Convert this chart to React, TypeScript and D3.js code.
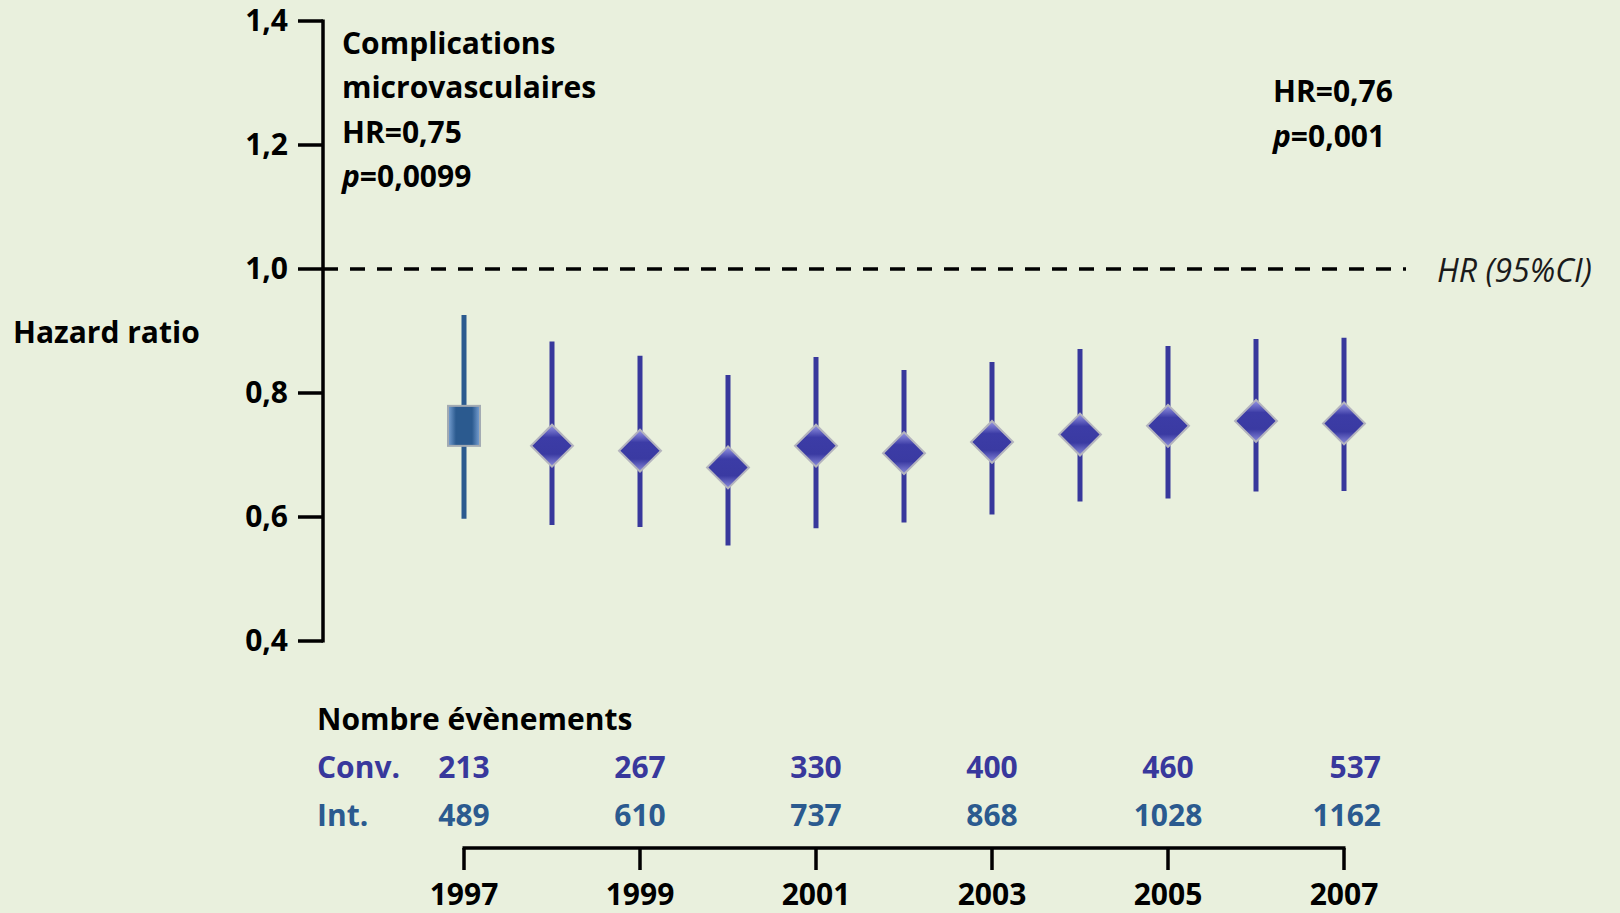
import React from "react";
import * as d3 from "d3";

// hazard ratio per year with 95% CI
const years = [1997, 1998, 1999, 2000, 2001, 2002, 2003, 2004, 2005, 2006, 2007];
const hr = [0.747, 0.715, 0.707, 0.68, 0.715, 0.703, 0.721, 0.733, 0.747, 0.755, 0.751];
const ciLow = [0.597, 0.587, 0.584, 0.554, 0.582, 0.591, 0.604, 0.625, 0.63, 0.641, 0.642];
const ciHigh = [0.926, 0.883, 0.86, 0.829, 0.858, 0.837, 0.85, 0.871, 0.876, 0.887, 0.889];

const yTicks = [0.4, 0.6, 0.8, 1.0, 1.2, 1.4];
const tickYears = [1997, 1999, 2001, 2003, 2005, 2007];
const convEvents = [213, 267, 330, 400, 460, 537];
const intEvents = [489, 610, 737, 868, 1028, 1162];

const W = 1620;
const H = 913;
const FONT = "'Open Sans', Lato, sans-serif";
const VIOLET = "#38389c";
const STEEL = "#2b5a8f";

const fmt = (v: number) => d3.format(".1f")(v).replace(".", ",");

export default function App() {
  const x = d3.scaleLinear().domain([1997, 2007]).range([464, 1344]);
  const y = d3.scaleLinear().domain([0.4, 1.4]).range([641, 21]);
  const axisX = 323;
  const diamond = d3.symbol().type(d3.symbolSquare).size(880)();
  const bottomY = 848;
  const fs = 30;

  return (
    <svg
      width={W}
      height={H}
      style={{ position: "absolute", left: 0, top: 0, background: "#e9f0dd", fontFamily: FONT }}
    >
      <defs>
        <linearGradient id="dia" x1="0" y1="0" x2="1" y2="1">
          <stop offset="0%" stopColor="#9a9ae6" />
          <stop offset="30%" stopColor="#3c3ca6" />
          <stop offset="70%" stopColor="#3a3aa2" />
          <stop offset="100%" stopColor="#8c8cdc" />
        </linearGradient>
        <linearGradient id="sq" x1="0" y1="0" x2="1" y2="0">
          <stop offset="0%" stopColor="#7aa2d4" />
          <stop offset="25%" stopColor="#2b5a8f" />
          <stop offset="75%" stopColor="#2b5a8f" />
          <stop offset="100%" stopColor="#7aa2d4" />
        </linearGradient>
      </defs>
      <rect width={W} height={H} fill="#e9f0dd" />

      {/* y axis */}
      <line x1={axisX} x2={axisX} y1={y(1.4) - 1.5} y2={y(0.4) + 1.5} stroke="#000" strokeWidth={3.5} />
      {yTicks.map((t) => (
        <g key={t}>
          <line x1={axisX - 25} x2={axisX} y1={y(t)} y2={y(t)} stroke="#000" strokeWidth={3.5} />
          <text x={288} y={y(t) + 10} textAnchor="end" fontSize={fs} fontWeight="bold">
            {fmt(t)}
          </text>
        </g>
      ))}
      <text x={13} y={343} fontSize={fs} fontWeight="bold">Hazard ratio</text>

      {/* reference line at HR = 1 */}
      <line
        x1={axisX}
        x2={1406}
        y1={y(1)}
        y2={y(1)}
        stroke="#000"
        strokeWidth={3.5}
        strokeDasharray="15 12"
      />
      <text x={1437} y={282} fontSize={32} fontStyle="italic" fill="#1a1a1a">HR (95%CI)</text>

      {/* annotations */}
      <g fontSize={fs} fontWeight="bold">
        <text x={342} y={54}>Complications</text>
        <text x={342} y={98}>microvasculaires</text>
        <text x={342} y={143}>HR=0,75</text>
        <text x={342} y={187}>
          <tspan fontStyle="italic">p</tspan>=0,0099
        </text>
        <text x={1273} y={102}>HR=0,76</text>
        <text x={1273} y={147}>
          <tspan fontStyle="italic">p</tspan>=0,001
        </text>
      </g>

      {/* CI bars */}
      {years.map((yr, i) => (
        <line
          key={"ci" + yr}
          x1={x(yr)}
          x2={x(yr)}
          y1={y(ciHigh[i])}
          y2={y(ciLow[i])}
          stroke={i === 0 ? STEEL : VIOLET}
          strokeWidth={5}
        />
      ))}

      {/* markers */}
      {years.map((yr, i) =>
        i === 0 ? (
          <rect
            key={"m" + yr}
            x={x(yr) - 16}
            y={y(hr[i]) - 20}
            width={32}
            height={40}
            fill="url(#sq)"
            stroke="#a3abb3"
            strokeWidth={2}
          />
        ) : (
          <path
            key={"m" + yr}
            d={diamond as string}
            transform={`translate(${x(yr)},${y(hr[i])}) rotate(45)`}
            fill="url(#dia)"
            stroke="#b4b4be"
            strokeWidth={2}
          />
        )
      )}

      {/* event table */}
      <text x={317} y={730} fontSize={fs} fontWeight="bold">Nombre évènements</text>
      <text x={317} y={778} fontSize={fs} fontWeight="bold" fill={VIOLET}>Conv.</text>
      <text x={317} y={826} fontSize={fs} fontWeight="bold" fill={STEEL}>Int.</text>
      {tickYears.map((yr, i) => {
        const last = i === tickYears.length - 1;
        const tx = last ? x(yr) + 37 : x(yr);
        const anchor = last ? "end" : "middle";
        return (
          <g key={"ev" + yr} fontSize={fs} fontWeight="bold" textAnchor={anchor}>
            <text x={tx} y={778} fill={VIOLET}>{convEvents[i]}</text>
            <text x={tx} y={826} fill={STEEL}>{intEvents[i]}</text>
          </g>
        );
      })}

      {/* year axis */}
      <line x1={x(1997) - 1.5} x2={x(2007) + 1.5} y1={bottomY} y2={bottomY} stroke="#000" strokeWidth={3.5} />
      {tickYears.map((yr) => (
        <g key={"t" + yr}>
          <line x1={x(yr)} x2={x(yr)} y1={bottomY} y2={bottomY + 22} stroke="#000" strokeWidth={3.5} />
          <text x={x(yr)} y={905} textAnchor="middle" fontSize={fs} fontWeight="bold">{yr}</text>
        </g>
      ))}
    </svg>
  );
}
